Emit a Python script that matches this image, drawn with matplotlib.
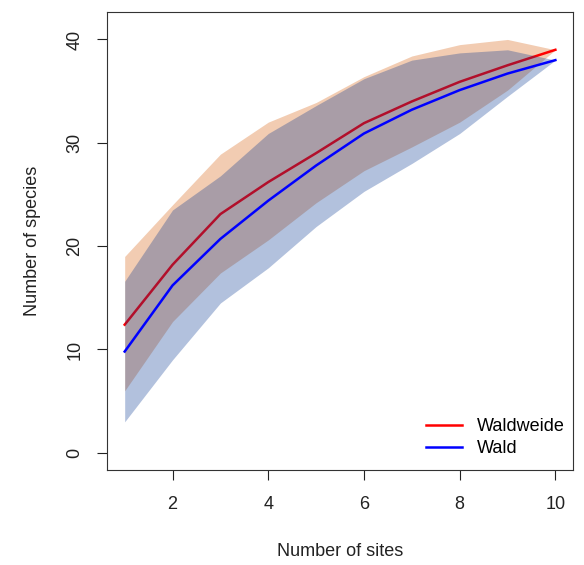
import numpy as np
import matplotlib.pyplot as plt

plt.rcParams['font.family'] = ['Liberation Sans', 'DejaVu Sans']

# species accumulation, two habitat types
sites = [1, 2, 3, 4, 5, 6, 7, 8, 9, 10]

waldweide = [12.4, 18.2, 23.1, 26.2, 29.0, 31.9, 34.0, 35.9, 37.5, 39.0]
waldweide_lo = [6.0, 12.7, 17.4, 20.6, 24.2, 27.3, 29.6, 32.0, 35.1, 39.0]
waldweide_hi = [19.0, 24.0, 28.9, 32.0, 33.9, 36.4, 38.4, 39.5, 40.0, 39.0]

wald = [9.8, 16.2, 20.7, 24.4, 27.8, 30.9, 33.2, 35.1, 36.7, 38.0]
wald_lo = [3.0, 9.0, 14.5, 17.9, 21.9, 25.3, 28.0, 30.9, 34.5, 38.0]
wald_hi = [16.6, 23.5, 26.8, 30.9, 33.6, 36.2, 38.0, 38.7, 39.0, 38.0]

fs = 13

fig = plt.figure(figsize=(5.84, 5.65), dpi=100)
ax = fig.add_axes([0.184, 0.168, 0.7965, 0.811])

# orange band, red line, then blue band on top (the red line gets darkened)
ax.fill_between(sites, waldweide_lo, waldweide_hi, color=(0.83, 0.345, 0.0), alpha=0.3, lw=0, zorder=1)
ax.plot(sites, waldweide, color='red', lw=1.8, label='Waldweide', zorder=2)
ax.fill_between(sites, wald_lo, wald_hi, color=(0.0, 0.2, 0.56), alpha=0.3, lw=0, zorder=3)
ax.plot(sites, wald, color='blue', lw=1.8, label='Wald', zorder=4)

ax.set_xlim(0.64, 10.36)
ax.set_ylim(-1.67, 42.67)
ax.set_xticks([2, 4, 6, 8, 10])
ax.set_yticks([0, 10, 20, 30, 40])
for lbl in ax.get_yticklabels():
    lbl.set_rotation(90)
    lbl.set_va('center')

ax.tick_params(direction='out', length=7.5, width=0.8, labelsize=fs, colors='#222222')
ax.tick_params(axis='x', pad=11)
ax.tick_params(axis='y', pad=10)
for sp in ax.spines.values():
    sp.set_linewidth(0.8)
    sp.set_color('#333333')

ax.set_xlabel('Number of sites', fontsize=fs, labelpad=22, color='#222222')
ax.set_ylabel('Number of species', fontsize=fs, labelpad=18, color='#222222')

ax.legend(loc='lower right', bbox_to_anchor=(0.984, 0.028), frameon=False,
          fontsize=fs, handlelength=2.0, handletextpad=0.85, labelspacing=0.28,
          borderpad=0, borderaxespad=0)

fig.savefig('out.png', dpi=100)
